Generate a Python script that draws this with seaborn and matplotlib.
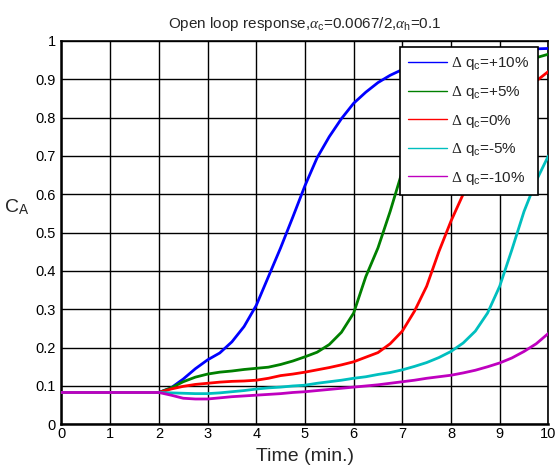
import numpy as np
import pandas as pd
import matplotlib
matplotlib.use("Agg")
import matplotlib.pyplot as plt
from matplotlib.lines import Line2D
import seaborn as sns

# Simulation time (min.)
time_min = [0, 1, 2.0, 2.25, 2.5, 2.75, 3.0, 3.25, 3.5, 3.75, 4.0, 4.25, 4.5, 4.75,
            5.0, 5.25, 5.5, 5.75, 6.0, 6.25, 6.5, 6.75, 7.0, 7.25, 7.5, 7.75,
            8.0, 8.25, 8.5, 8.75, 9.0, 9.25, 9.5, 9.75, 10.0]

# Concentration C_A for each change in coolant flow q_c
ca_plus10 = [0.083, 0.083, 0.083, 0.095, 0.118, 0.145, 0.168, 0.186, 0.215, 0.255, 0.31,
             0.385, 0.46, 0.54, 0.622, 0.695, 0.75, 0.797, 0.837, 0.866, 0.891, 0.91,
             0.925, 0.937, 0.946, 0.953, 0.959, 0.964, 0.968, 0.971, 0.974, 0.976,
             0.978, 0.979, 0.98]
ca_plus5 = [0.083, 0.083, 0.083, 0.095, 0.111, 0.123, 0.131, 0.136, 0.139, 0.143, 0.146,
            0.149, 0.156, 0.165, 0.176, 0.188, 0.208, 0.24, 0.29, 0.385, 0.46, 0.555,
            0.66, 0.74, 0.80, 0.84, 0.87, 0.893, 0.91, 0.922, 0.932, 0.94, 0.947,
            0.956, 0.965]
ca_zero = [0.083, 0.083, 0.083, 0.092, 0.099, 0.104, 0.107, 0.11, 0.112, 0.113, 0.115,
           0.12, 0.127, 0.131, 0.136, 0.142, 0.148, 0.155, 0.163, 0.175, 0.187, 0.21,
           0.243, 0.295, 0.36, 0.45, 0.53, 0.60, 0.68, 0.75, 0.80, 0.84, 0.87, 0.895,
           0.92]
ca_minus5 = [0.083, 0.083, 0.083, 0.082, 0.081, 0.08, 0.08, 0.082, 0.085, 0.088, 0.092,
             0.095, 0.097, 0.10, 0.102, 0.107, 0.111, 0.115, 0.12, 0.124, 0.13, 0.135,
             0.142, 0.151, 0.161, 0.174, 0.19, 0.212, 0.243, 0.29, 0.36, 0.455, 0.555,
             0.635, 0.70]
ca_minus10 = [0.083, 0.083, 0.083, 0.076, 0.068, 0.066, 0.066, 0.069, 0.072, 0.074,
              0.076, 0.078, 0.08, 0.083, 0.085, 0.088, 0.091, 0.094, 0.097, 0.10, 0.103,
              0.107, 0.111, 0.115, 0.12, 0.124, 0.128, 0.134, 0.141, 0.15, 0.16, 0.173,
              0.19, 0.21, 0.237]

series_labels = ["+10%", "+5%", "0%", "-5%", "-10%"]
series_values = [ca_plus10, ca_plus5, ca_zero, ca_minus5, ca_minus10]
series_colors = ["#0000ff", "#008000", "#ff0000", "#00bfbf", "#bf00bf"]

x_ticks = list(range(0, 11))
y_ticks = [0, 0.1, 0.2, 0.3, 0.4, 0.5, 0.6, 0.7, 0.8, 0.9, 1]
y_tick_labels = ["0", "0.1", "0.2", "0.3", "0.4", "0.5", "0.6", "0.7", "0.8", "0.9", "1"]

df = pd.concat(
    [pd.DataFrame({"t": time_min, "CA": vals, "dq": lab})
     for lab, vals in zip(series_labels, series_values)],
    ignore_index=True,
)

sns.set_theme(style="white")
plt.rcParams["font.family"] = ["Liberation Sans", "DejaVu Sans"]
plt.rcParams["mathtext.fontset"] = "custom"
plt.rcParams["mathtext.rm"] = "Liberation Sans"
plt.rcParams["mathtext.sf"] = "Liberation Serif"
plt.rcParams["mathtext.it"] = "Liberation Serif:italic"

fig = plt.figure(figsize=(5.59, 4.70), dpi=100)
ax = fig.add_axes([0.110, 0.0972, 0.871, 0.816])

sns.lineplot(data=df, x="t", y="CA", hue="dq", hue_order=series_labels,
             palette=series_colors, linewidth=2, legend=False, ax=ax, zorder=3)

ax.set_xlim(0, 10)
ax.set_ylim(0, 1)
ax.set_xticks(x_ticks)
ax.set_xticklabels([str(v) for v in x_ticks])
ax.set_yticks(y_ticks)
ax.set_yticklabels(y_tick_labels)
ax.grid(True, color="black", linewidth=1.0, linestyle="-")
ax.set_axisbelow(True)
ax.tick_params(direction="in", length=4, width=1, labelsize=10.5, colors="black")
ax.tick_params(axis="x", pad=2)
ax.tick_params(axis="y", pad=4)
for name, sp in ax.spines.items():
    sp.set_color("black")
    sp.set_linewidth(1.8 if name in ("left", "bottom") else 1.2)

ax.set_xlabel("Time (min.)", fontsize=14, labelpad=0)
ax.xaxis.set_label_coords(0.5, -0.062)
ax.set_ylabel("C$_\\mathrm{A}$", fontsize=14, rotation=0, va="center")
ax.yaxis.set_label_coords(-0.092, 0.565)
ax.set_title("Open loop response,$\\mathit{\\alpha}_\\mathrm{c}$=0.0067/2,"
             "$\\mathit{\\alpha}_\\mathrm{h}$=0.1", fontsize=11, pad=9)

handles = [Line2D([0], [0], color=c, linewidth=1.0) for c in series_colors]
labels = ["$\\mathsf{\\Delta}$ q$_\\mathrm{c}$=" + lab for lab in series_labels]
leg = ax.legend(handles, labels, loc="upper right", bbox_to_anchor=(0.978, 0.984),
                borderaxespad=0, fontsize=11, handlelength=2.5, labelspacing=0.76,
                handletextpad=0.3, borderpad=0.55, fancybox=False, framealpha=1,
                edgecolor="black")
leg.get_frame().set_linewidth(1.2)
leg.set_zorder(5)

fig.savefig("out.png", dpi=100)
